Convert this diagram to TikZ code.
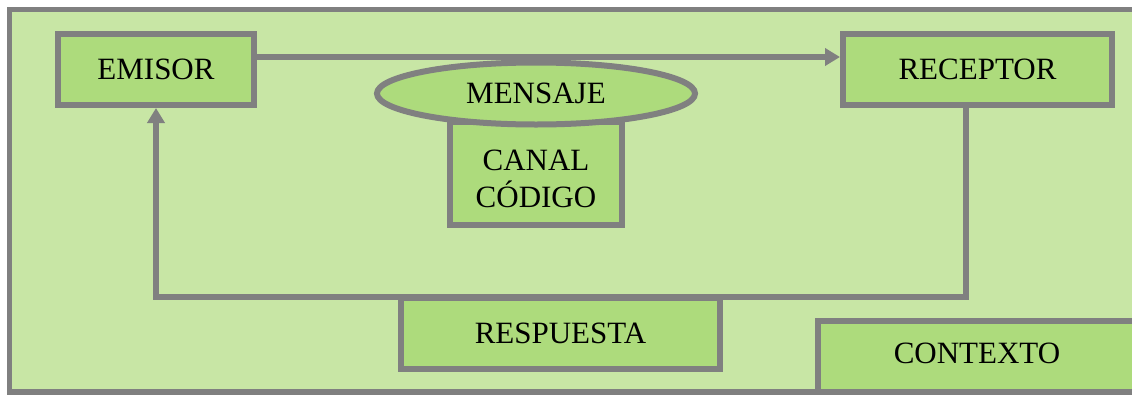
\documentclass[tikz,border=0pt]{standalone}
\usepackage{fontspec}
\setmainfont{Liberation Serif}
\usetikzlibrary{shapes.geometric,arrows.meta}
\definecolor{fondo}{RGB}{200,230,165}
\definecolor{caja}{RGB}{173,219,124}
\definecolor{borde}{RGB}{128,128,128}
\begin{document}
\begin{tikzpicture}[x=1pt, y=-1pt,
    bloque/.style={rectangle, draw=borde, fill=caja, line width=6pt, inner sep=0pt,
        font=\fontsize{31}{37}\selectfont, align=center},
    flujo/.style={draw=borde, line width=5.5pt, line join=miter,
        -{Triangle[length=15pt,width=17pt]}}]
    \useasboundingbox (0,0) rectangle (1132,394);
    \clip (0,0) rectangle (1132,394);
    \draw[borde, fill=fondo, line width=5.5pt] (9.5,9.5) rectangle (1145,392);
    \node[bloque, minimum width=196, minimum height=71] (emisor) at (156,69.5) {EMISOR};
    \node[bloque, minimum width=269, minimum height=71] (receptor) at (977.5,69.5) {RECEPTOR};
    \node[bloque, minimum width=172, minimum height=103] (canal) at (536,173.5) {\raisebox{-5pt}[\height][\depth]{\parbox{160pt}{\centering CANAL\\CÓDIGO}}};
    \node[bloque, ellipse, minimum width=318, minimum height=62] (mensaje) at (536,93.5) {MENSAJE};
    \draw[flujo] ([yshift=12.5pt]emisor.east) -- ([yshift=12.5pt]receptor.west);
    \draw[flujo] ([xshift=-11.5pt]receptor.south) |- (560,297) -| (emisor.south);
    \node[bloque, minimum width=319, minimum height=71] (respuesta) at (560.5,333.5) {RESPUESTA};
    \node[bloque, minimum width=318, minimum height=76] (contexto) at (977,359) {\raisebox{6pt}[\height][\depth]{CONTEXTO}};
    \draw[borde, line width=5.5pt] (9.5,392) -- (1145,392);
\end{tikzpicture}
\end{document}
